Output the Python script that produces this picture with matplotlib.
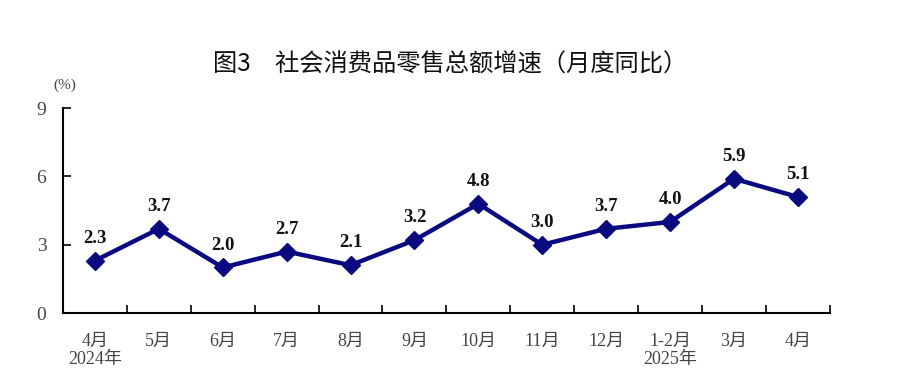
import matplotlib
matplotlib.use('Agg')
import matplotlib.pyplot as plt

months = ['4月\n2024年', '5月', '6月', '7月', '8月', '9月', '10月', '11月', '12月',
          '1-2月\n2025年', '3月', '4月']
growth = [2.3, 3.7, 2.0, 2.7, 2.1, 3.2, 4.8, 3.0, 3.7, 4.0, 5.9, 5.1]
yticks = [0, 3, 6, 9]

serif = ['Liberation Serif', 'Noto Sans CJK SC']
grey = '#444444'

fig = plt.figure(figsize=(9, 3.85), dpi=100)
ax = fig.add_axes([0.07, 0.187, 0.852, 0.532])

x = list(range(len(growth)))
ax.plot(x, growth, color='#0a0a80', linewidth=3.2, marker='D', markersize=9,
        solid_joinstyle='round')
for xi, v in zip(x, growth):
    ax.annotate(f'{v:.1f}', (xi, v), xytext=(0, 10), textcoords='offset points',
                ha='center', va='bottom', fontsize=13.5, fontweight='bold',
                family=serif, color='#111111')

ax.set_xlim(-0.5, len(growth) - 0.5)
ax.set_ylim(0, 9)
ax.set_yticks(yticks)
ax.set_yticklabels([str(t) for t in yticks], family=serif, fontsize=14, color=grey)
ax.tick_params(axis='y', direction='in', length=6, width=1.2, pad=12)

# category labels centred, tick marks between categories
ax.set_xticks(x)
ax.set_xticklabels(months, family=serif, fontsize=13, color=grey, linespacing=1.15,
                   va='top')
ax.tick_params(axis='x', which='major', length=0, pad=14)
ax.set_xticks([i + 0.5 for i in range(len(growth))], minor=True)
ax.tick_params(axis='x', which='minor', direction='in', length=6, width=1.2)

for s in ['top', 'right']:
    ax.spines[s].set_visible(False)
for s in ['left', 'bottom']:
    ax.spines[s].set_linewidth(1.5)

fig.text(0.072, 0.77, '(%)', family=serif, fontsize=11, color=grey, ha='center')
fig.text(0.5, 0.815, '图3　社会消费品零售总额增速（月度同比）',
         family=['Noto Sans CJK SC', 'DejaVu Sans'], fontsize=17.5, ha='center',
         color='#111111')

fig.savefig('out.png', dpi=100)
